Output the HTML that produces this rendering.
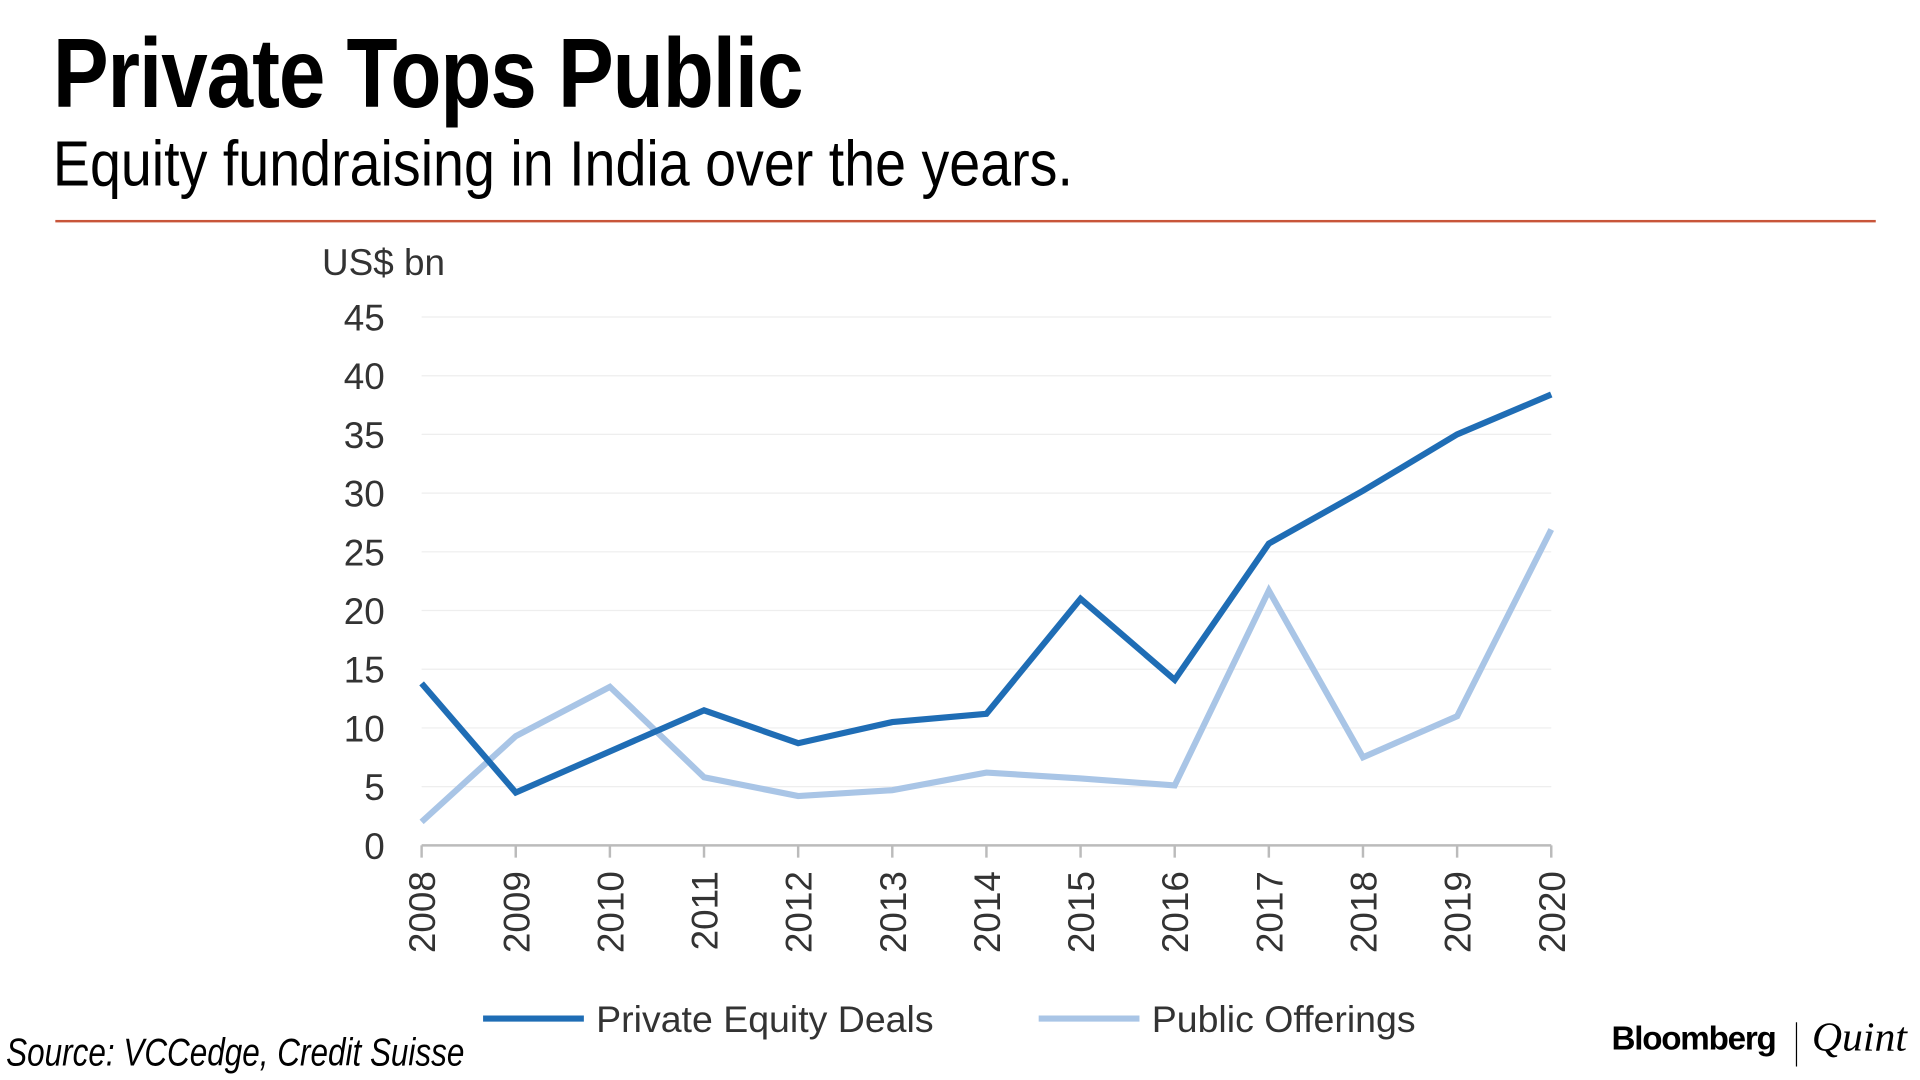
<!DOCTYPE html>
<html><head><meta charset="utf-8"><style>
html,body{margin:0;padding:0;background:#fff;width:1920px;height:1080px;overflow:hidden}
#wrap{position:absolute;left:0;top:0;width:1562px;height:879px;transform:scale(1.2292,1.2287);transform-origin:0 0}
.t{position:absolute;white-space:nowrap;font-family:"Liberation Sans",sans-serif;transform-origin:0 0}
</style></head><body>
<div id="wrap">
<div class="t" style="left:43px;top:14px;font-size:80px;font-weight:bold;letter-spacing:-1px;transform:scaleX(0.85)">Private Tops Public</div>
<div class="t" style="left:43px;top:104px;font-size:52px;transform:scaleX(0.87)">Equity fundraising in India over the years.</div>
<div style="position:absolute;left:45px;top:179px;width:1481px;height:2px;background:#c8553a"></div>
<svg id="chart" style="position:absolute;left:0;top:0" width="1562" height="879"></svg>
<div class="t" style="left:5px;top:838px;font-size:32px;font-style:italic;transform:scaleX(0.8)">Source: VCCedge, Credit Suisse</div>
<div class="t" style="left:1311px;top:830px;font-size:27px;font-weight:bold;letter-spacing:-1px">Bloomberg</div>
<div style="position:absolute;left:1461px;top:832px;width:1px;height:36px;background:#000"></div>
<div class="t" style="left:1474px;top:826px;font-size:34px;font-style:italic;font-family:'Liberation Serif',serif">Quint</div>
</div>
<script>
const years=["2008","2009","2010","2011","2012","2013","2014","2015","2016","2017","2018","2019","2020"];
const privateEquity=[13.8,4.5,8,11.5,8.7,10.5,11.2,21,14.1,25.7,30.2,35,38.4];
const publicOfferings=[2.0,9.3,13.5,5.8,4.2,4.7,6.2,5.7,5.1,21.7,7.5,11,26.9];
const yTicks=[0,5,10,15,20,25,30,35,40,45];
const NS="http://www.w3.org/2000/svg";
const svg=document.getElementById('chart');
const x0=343,x1=1262,y0=688,y45=258;
const xs=i=>x0+(x1-x0)*i/(years.length-1);
const ys=v=>y0-(y0-y45)*v/45;
function mk(tag,attrs){const e=document.createElementNS(NS,tag);for(const k in attrs)e.setAttribute(k,attrs[k]);svg.appendChild(e);return e;}
const ff='"Liberation Sans",sans-serif';
let u=mk('text',{x:262,y:224,'font-size':30,'font-family':ff,fill:'#333'});u.textContent='US$ bn';


yTicks.forEach(v=>{
  if(v>0){const g=mk('line',{x1:x0,x2:x1,y1:ys(v),y2:ys(v),stroke:'#eeeeee','stroke-width':1});
  
  }
  const t=mk('text',{x:313,y:ys(v)+11,'text-anchor':'end','font-size':30,'font-family':ff,fill:'#333'});
  t.textContent=v;
  
  
});
const ax=mk('line',{x1:x0,x2:x1,y1:y0,y2:y0,stroke:'#bbb','stroke-width':2});


years.forEach((yr,i)=>{
  const tk=mk('line',{x1:xs(i),x2:xs(i),y1:y0,y2:y0+10,stroke:'#bbb','stroke-width':2});
  
  
  const t=mk('text',{x:0,y:0,'font-size':30,'font-family':ff,fill:'#333','text-anchor':'end',transform:`translate(${xs(i)+11},709) rotate(-90)`});
  t.textContent=yr;
  
  
});
function series(vals,color,name){
  const p=mk('polyline',{points:vals.map((v,i)=>xs(i)+','+ys(v)).join(' '),fill:'none',stroke:color,'stroke-width':5,'stroke-linejoin':'miter'});
  
  
}
series(publicOfferings,'#a9c5e6','public-offerings-line');
series(privateEquity,'#1f6db5','private-equity-line');
function legend(x,color,label,name){
  const l=mk('line',{x1:x,x2:x+82,y1:829,y2:829,stroke:color,'stroke-width':5});
  
  
  const t=mk('text',{x:x+92,y:840,'font-size':30.5,'font-family':ff,fill:'#333'});
  t.textContent=label;
  
  
}
legend(393,'#1f6db5','Private Equity Deals','legend-private-equity');
legend(845,'#a9c5e6','Public Offerings','legend-public-offerings');
</script>
</body></html>
